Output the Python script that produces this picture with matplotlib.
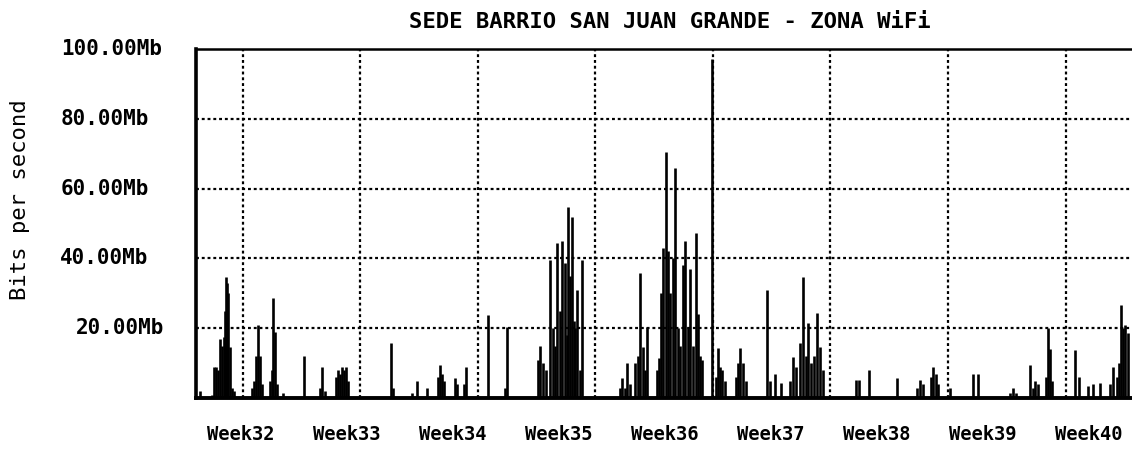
import matplotlib
matplotlib.use("Agg")
import matplotlib.pyplot as plt
import matplotlib.transforms as mtransforms

# ---------------- data ----------------
title = "SEDE BARRIO SAN JUAN GRANDE - ZONA WiFi"
y_label = "Bits per second"
y_ticks = [20, 40, 60, 80, 100]
y_tick_labels = ["20.00Mb", "40.00Mb", "60.00Mb", "80.00Mb", "100.00Mb"]
week_labels = ["Week32", "Week33", "Week34", "Week35", "Week36",
               "Week37", "Week38", "Week39", "Week40"]
week_label_days = [2.97, 9.97, 16.97, 23.97, 30.97, 37.97, 44.97, 51.97, 58.97]
grid_days = [3.10, 10.86, 18.62, 26.38, 34.14, 41.90, 49.66, 57.42]
x_max_days = 61.81

# traffic samples: time (days since start) and rate (Mb/s)
sample_days = [
    0.26, 1.06,
    1.19, 1.32, 1.45, 1.58, 1.72, 1.85, 1.92, 1.98, 2.05, 2.11, 2.25, 2.38, 2.51,
    3.70, 3.83, 3.96, 4.09, 4.23, 4.36,
    4.89, 5.02, 5.08, 5.22, 5.35, 5.75,
    7.13,
    8.19, 8.32, 8.52,
    9.25, 9.38, 9.51, 9.64, 9.77, 9.91, 10.04,
    12.88, 13.01,
    14.26, 14.59, 15.25,
    15.98, 16.11, 16.25, 16.38,
    17.10, 17.24, 17.70, 17.83,
    19.28,
    20.41, 20.54,
    22.58, 22.72, 22.92, 23.11, 23.38, 23.58, 23.71, 23.84, 24.04, 24.17,
    24.37, 24.50, 24.57, 24.70, 24.83, 24.95, 25.03, 25.16, 25.36, 25.49,
    28.00, 28.13, 28.33, 28.46, 28.66, 28.99, 29.19, 29.32, 29.52, 29.65, 29.78,
    30.45, 30.59, 30.72, 30.85, 31.04, 31.18, 31.31, 31.51, 31.64, 31.84,
    31.96, 32.16, 32.29, 32.49, 32.62, 32.82, 33.02, 33.15, 33.28, 33.42,
    34.08,
    34.34, 34.48, 34.61, 34.74, 34.93,
    35.66, 35.79, 35.92, 36.12, 36.32,
    37.71, 37.91, 38.24, 38.63,
    39.23, 39.42, 39.62, 39.89, 40.08, 40.28, 40.41, 40.61, 40.81, 41.01, 41.21, 41.41,
    43.58, 43.78, 44.44,
    46.29,
    47.61, 47.81, 48.01,
    48.54, 48.67, 48.87, 49.00,
    49.79,
    51.31, 51.64,
    53.75, 53.95, 54.15,
    55.07, 55.27, 55.40, 55.60,
    56.13, 56.26, 56.40, 56.53,
    58.05, 58.31, 58.90, 59.24, 59.70,
    60.36, 60.56, 60.82, 60.95, 61.08, 61.22, 61.35, 61.55,
]
sample_mbps = [
    2.0, 1.0,
    9.0, 9.0, 8.0, 17.0, 15.0, 17.5, 25.0, 34.7, 33.0, 30.0, 14.6, 3.0, 2.0,
    3.0, 5.0, 12.0, 21.0, 12.0, 4.0,
    5.0, 8.0, 28.6, 19.0, 4.0, 1.5,
    12.0,
    3.0, 9.0, 2.0,
    6.0, 8.0, 7.0, 9.0, 8.0, 9.0, 5.0,
    15.8, 3.0,
    1.5, 5.0, 3.0,
    6.0, 9.5, 7.0, 5.0,
    5.7, 4.0, 4.0, 9.0,
    23.8,
    3.0, 20.3,
    11.0, 15.0, 10.0, 8.0, 39.5, 20.0, 15.0, 44.4, 25.0, 45.0,
    38.6, 18.0, 54.7, 35.0, 52.0, 22.0, 20.0, 31.0, 8.0, 39.5,
    3.0, 5.7, 3.0, 10.0, 4.0, 10.0, 12.0, 35.8, 14.6, 8.0, 20.3,
    8.0, 11.5, 30.0, 43.0, 70.5, 42.0, 30.0, 40.0, 66.0, 20.0,
    15.0, 38.0, 45.0, 20.0, 37.0, 15.0, 47.3, 24.0, 12.0, 11.0,
    97.0,
    6.0, 14.3, 9.0, 8.0, 5.0,
    6.0, 10.0, 14.3, 10.0, 5.0,
    31.0, 5.0, 7.0, 4.3,
    5.0, 11.7, 9.0, 15.7, 34.7, 12.0, 21.5, 10.0, 12.0, 24.3, 14.6, 8.0,
    5.2, 5.2, 8.0,
    5.7,
    3.0, 5.2, 4.0,
    6.0, 9.0, 7.0, 4.0,
    3.0,
    7.0, 7.0,
    1.5, 3.0, 1.5,
    9.5, 3.0, 5.0, 4.0,
    6.0, 20.0, 14.0, 5.0,
    13.7, 6.0, 3.5, 4.0, 4.3,
    4.0, 9.0, 6.0, 10.0, 26.6, 20.0, 21.0, 18.6,
]

# ---------------- figure ----------------
W, H = 1132, 449
fig = plt.figure(figsize=(W / 100, H / 100), dpi=100)
fig.patch.set_facecolor("white")
ax = fig.add_axes([196 / W, (H - 398) / H, (W - 196) / W, (398 - 49) / H])
ax.set_xlim(0, x_max_days)
ax.set_ylim(0, 100)

# grid
dot_style = (0, (1.3, 1.3))
for gx in grid_days:
    ax.axvline(gx, color="black", lw=1.6, linestyle=dot_style, zorder=1)
for gy in y_ticks[:-1]:
    ax.axhline(gy, color="black", lw=1.6, linestyle=dot_style, zorder=1)

# traffic spikes
ax.vlines(sample_days, 0, sample_mbps, colors="black", lw=1.9, zorder=3)

# spines
ax.spines["right"].set_visible(False)
ax.spines["left"].set_linewidth(2.6)
ax.spines["bottom"].set_linewidth(2.8)
ax.spines["top"].set_linewidth(1.8)
ax.tick_params(length=0, labelleft=False, labelbottom=False)
ax.set_xticks([])
ax.set_yticks([])

mono = "DejaVu Sans Mono"

# y tick labels
label_centers_px = {"20.00Mb": 120, "40.00Mb": 104, "60.00Mb": 105,
                    "80.00Mb": 105, "100.00Mb": 112}
trans_y = mtransforms.blended_transform_factory(fig.transFigure, ax.transData)
for val, lab in zip(y_ticks, y_tick_labels):
    fig.text(label_centers_px[lab] / W, val, lab, transform=trans_y,
             ha="center", va="center", family=mono, fontweight="bold",
             fontsize=15)

# week labels
trans_x = mtransforms.blended_transform_factory(ax.transData, fig.transFigure)
for d, lab in zip(week_label_days, week_labels):
    fig.text(d, 1 - 434 / H, lab, transform=trans_x, ha="center", va="center",
             family=mono, fontweight="bold", fontsize=13.5)

# title and axis label
fig.text(670 / W, 1 - 22 / H, title, ha="center", va="center", family=mono,
         fontweight="bold", fontsize=16)
fig.text(20 / W, 1 - 200 / H, y_label, ha="center", va="center", rotation=90,
         family=mono, fontsize=16)

fig.savefig("out.png", dpi=100, facecolor="white")
